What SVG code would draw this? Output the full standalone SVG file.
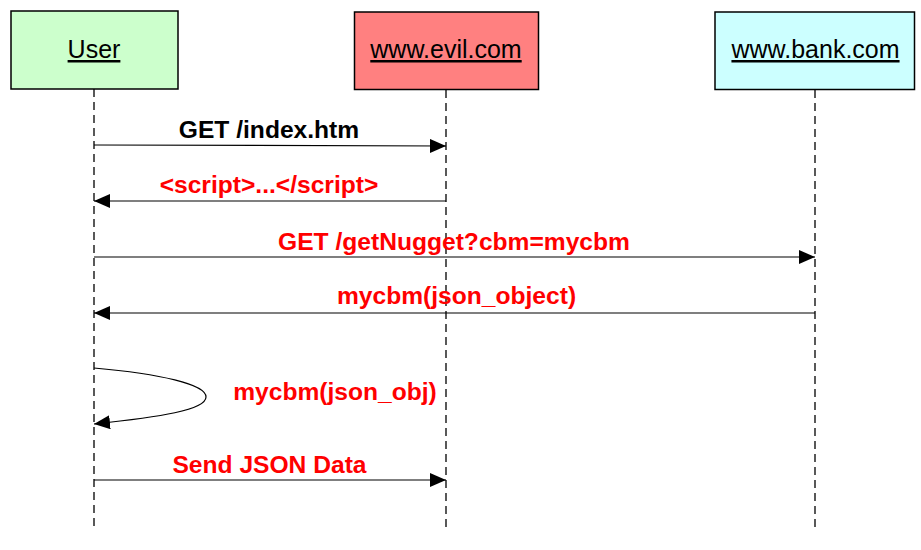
<svg xmlns="http://www.w3.org/2000/svg" width="921" height="550" viewBox="0 0 921 550">
<style>
.box{stroke:#000;stroke-width:1.5}
.hdr{font-family:"Liberation Sans",Arial,sans-serif;font-size:25px;text-anchor:middle;text-decoration:underline;fill:#000}
.life{stroke:#000;stroke-width:1.3;stroke-dasharray:8,5;fill:none}
.msg{stroke:#000;stroke-width:1.2;fill:none}
.lbl{font-family:"Liberation Sans",Arial,sans-serif;font-size:24.6px;font-weight:bold;text-anchor:middle;fill:#ff0000}
</style>
<defs>
<marker id="ah" markerUnits="userSpaceOnUse" markerWidth="17" markerHeight="15" refX="16" refY="7" orient="auto">
<path d="M0,0 L16,7 L0,14 z" fill="#000"/>
</marker>
</defs>
<rect width="921" height="550" fill="#fff"/>
<g id="user">
<rect class="box" x="11" y="11" width="167" height="78" fill="#ccffcc"/>
<text class="hdr" x="94" y="58">User</text>
</g>
<g id="evil">
<rect class="box" x="354.5" y="12" width="184" height="77.5" fill="#ff8080"/>
<text class="hdr" x="446" y="58">www.evil.com</text>
</g>
<g id="bank">
<rect class="box" x="715" y="12" width="199.5" height="77.5" fill="#ccffff"/>
<text class="hdr" x="815.5" y="58">www.bank.com</text>
</g>
<g id="connectors">
<line class="life" x1="94" y1="89" x2="94" y2="531"/>
<line class="life" x1="446" y1="90" x2="446" y2="531"/>
<line class="life" x1="815" y1="90" x2="815" y2="531"/>
<line class="msg" x1="94" y1="145" x2="446" y2="146" marker-end="url(#ah)"/>
<line class="msg" x1="446" y1="201" x2="94" y2="201" marker-end="url(#ah)"/>
<line class="msg" x1="94" y1="257" x2="815" y2="257" marker-end="url(#ah)"/>
<line class="msg" x1="815" y1="313" x2="94" y2="313" marker-end="url(#ah)"/>
<path class="msg" d="M94,368 C160,374 206,384 206,397 C206,410 160,417 94,424" marker-end="url(#ah)"/>
<line class="msg" x1="94" y1="480" x2="446" y2="480" marker-end="url(#ah)"/>
</g>
<g id="labels">
<text class="lbl" x="269" y="138" style="fill:#000">GET /index.htm</text>
<text class="lbl" x="269" y="193">&lt;script&gt;...&lt;/script&gt;</text>
<text class="lbl" x="454" y="250">GET /getNugget?cbm=mycbm</text>
<text class="lbl" x="456.5" y="304">mycbm(json_object)</text>
<text class="lbl" x="335" y="400">mycbm(json_obj)</text>
<text class="lbl" x="269.5" y="473">Send JSON Data</text>
</g>
</svg>
